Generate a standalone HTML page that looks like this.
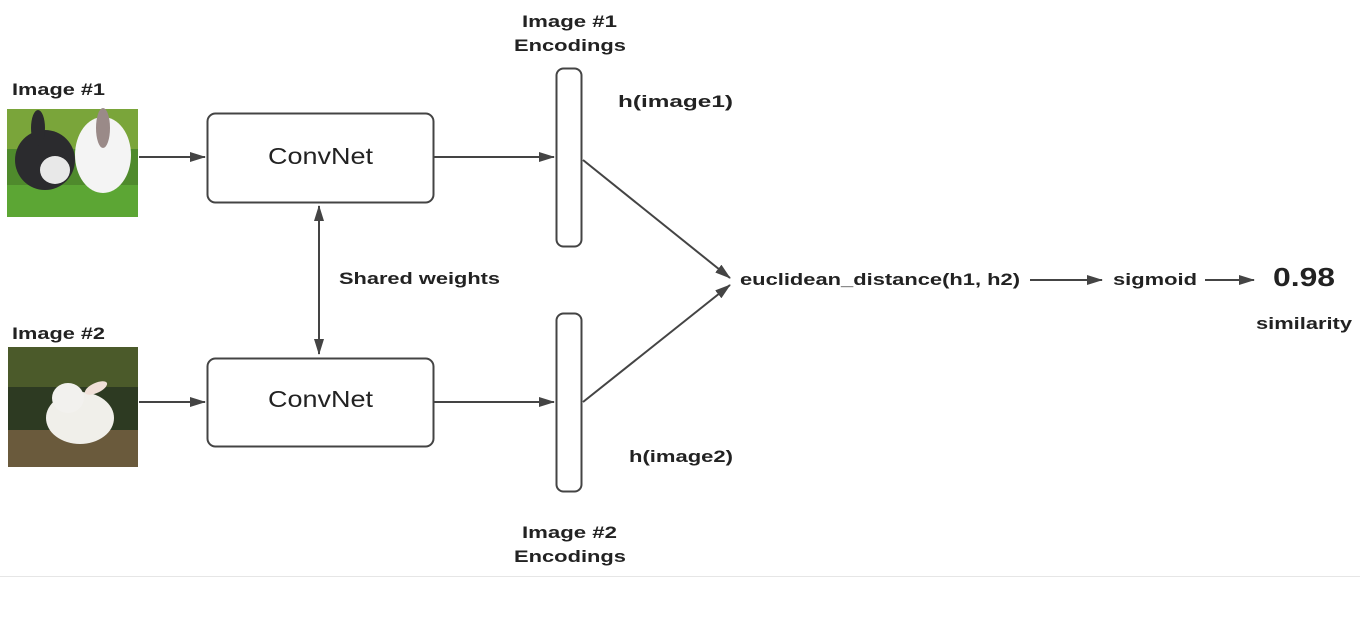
<!DOCTYPE html>
<html><head><style>
body{margin:0;background:#fff;}
svg text{font-family:"Liberation Sans",sans-serif;font-weight:bold;fill:#222;}
</style></head><body>
<svg width="1360" height="639" viewBox="0 0 1360 639" xmlns="http://www.w3.org/2000/svg">
<defs>
<marker id="a" markerWidth="16" markerHeight="10" refX="15" refY="5" orient="auto" markerUnits="userSpaceOnUse"><path d="M0,0 L16,5 L0,10 Z" fill="#444"/></marker>
<marker id="b" markerWidth="16" markerHeight="10" refX="1" refY="5" orient="auto" markerUnits="userSpaceOnUse"><path d="M16,0 L0,5 L16,10 Z" fill="#444"/></marker>
</defs>
<text x="12" y="95" font-size="17" textLength="93" lengthAdjust="spacingAndGlyphs">Image #1</text>
<text x="12" y="339" font-size="17" textLength="93" lengthAdjust="spacingAndGlyphs">Image #2</text>
<!-- image 1 -->
<rect x="7" y="109" width="131" height="108" fill="#4f8a2c"/>
<rect x="7" y="109" width="131" height="40" fill="#7aa53a"/>
<rect x="7" y="185" width="131" height="32" fill="#5ca634"/>
<ellipse cx="45" cy="160" rx="30" ry="30" fill="#2b2b2e"/>
<ellipse cx="55" cy="170" rx="15" ry="14" fill="#e8e8e8"/>
<ellipse cx="38" cy="128" rx="7" ry="18" fill="#2b2b2e"/>
<ellipse cx="103" cy="155" rx="28" ry="38" fill="#f4f4f4"/>
<ellipse cx="103" cy="128" rx="7" ry="20" fill="#9a8a88"/>
<!-- image 2 -->
<rect x="8" y="347" width="130" height="120" fill="#2d3a22"/>
<rect x="8" y="347" width="130" height="40" fill="#4b5a2a"/>
<rect x="8" y="430" width="130" height="37" fill="#6a5a3c"/>
<ellipse cx="80" cy="418" rx="34" ry="26" fill="#f0efea"/>
<ellipse cx="68" cy="398" rx="16" ry="15" fill="#f2f1ee"/>
<ellipse cx="96" cy="388" rx="12" ry="5" fill="#f0e0d8" transform="rotate(-25 96 388)"/>
<!-- convnets -->
<rect x="207.5" y="113.5" width="226" height="89" rx="8" fill="#fff" stroke="#444" stroke-width="2"/>
<rect x="207.5" y="358.5" width="226" height="88" rx="8" fill="#fff" stroke="#444" stroke-width="2"/>
<text x="268" y="164" font-size="23" textLength="105" lengthAdjust="spacingAndGlyphs" style="font-weight:normal">ConvNet</text>
<text x="268" y="407" font-size="23" textLength="105" lengthAdjust="spacingAndGlyphs" style="font-weight:normal">ConvNet</text>
<!-- bars -->
<rect x="556.5" y="68.5" width="25" height="178" rx="7" fill="#fff" stroke="#444" stroke-width="2"/>
<rect x="556.5" y="313.5" width="25" height="178" rx="7" fill="#fff" stroke="#444" stroke-width="2"/>
<g stroke="#444" stroke-width="2" fill="none">
<line x1="139" y1="157" x2="205" y2="157" marker-end="url(#a)"/>
<line x1="139" y1="402" x2="205" y2="402" marker-end="url(#a)"/>
<line x1="433" y1="157" x2="554" y2="157" marker-end="url(#a)"/>
<line x1="433" y1="402" x2="554" y2="402" marker-end="url(#a)"/>
<line x1="319" y1="206" x2="319" y2="354" marker-start="url(#b)" marker-end="url(#a)"/>
<line x1="583" y1="160" x2="730" y2="278" marker-end="url(#a)"/>
<line x1="583" y1="402" x2="730" y2="285" marker-end="url(#a)"/>
<line x1="1030" y1="280" x2="1102" y2="280" marker-end="url(#a)"/>
<line x1="1205" y1="280" x2="1254" y2="280" marker-end="url(#a)"/>
</g>
<text x="522" y="27" font-size="17" textLength="95" lengthAdjust="spacingAndGlyphs">Image #1</text>
<text x="514" y="51" font-size="17" textLength="112" lengthAdjust="spacingAndGlyphs">Encodings</text>
<text x="522" y="538" font-size="17" textLength="95" lengthAdjust="spacingAndGlyphs">Image #2</text>
<text x="514" y="562" font-size="17" textLength="112" lengthAdjust="spacingAndGlyphs">Encodings</text>
<text x="618" y="107" font-size="17" textLength="115" lengthAdjust="spacingAndGlyphs">h(image1)</text>
<text x="629" y="462" font-size="17" textLength="104" lengthAdjust="spacingAndGlyphs">h(image2)</text>
<text x="339" y="284" font-size="17" textLength="161" lengthAdjust="spacingAndGlyphs">Shared weights</text>
<text x="740" y="285" font-size="17" textLength="280" lengthAdjust="spacingAndGlyphs">euclidean_distance(h1, h2)</text>
<text x="1113" y="285" font-size="17" textLength="84" lengthAdjust="spacingAndGlyphs">sigmoid</text>
<text x="1273" y="286" font-size="26" fill="#111" textLength="62" lengthAdjust="spacingAndGlyphs">0.98</text>
<text x="1256" y="329" font-size="17" textLength="96" lengthAdjust="spacingAndGlyphs">similarity</text>
<line x1="0" y1="576.5" x2="1360" y2="576.5" stroke="#e6e6e6" stroke-width="1"/>
</svg>
</body></html>
